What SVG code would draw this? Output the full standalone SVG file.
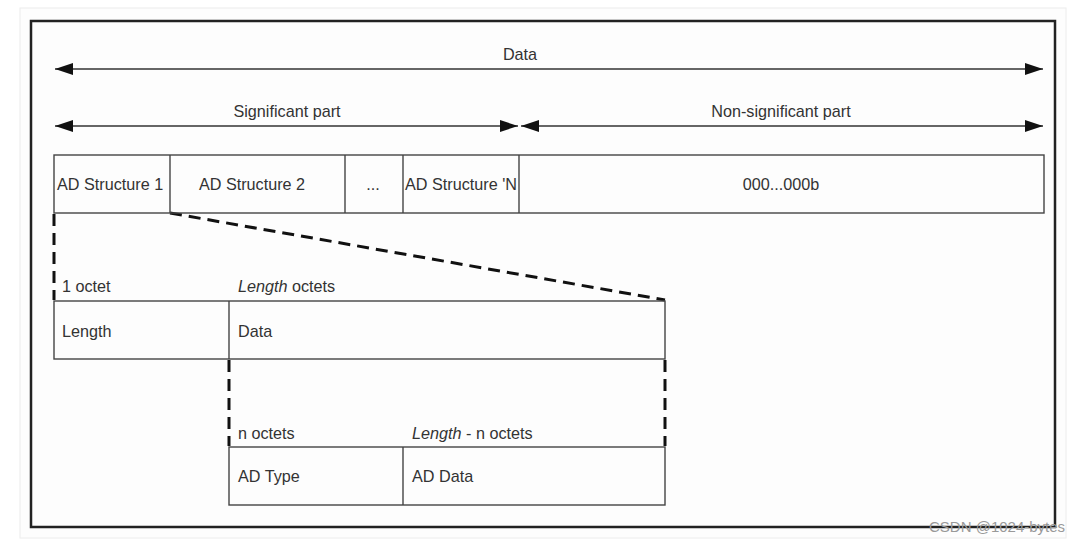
<svg xmlns="http://www.w3.org/2000/svg" width="1086" height="544" viewBox="0 0 1086 544">
<style>
text{font-family:"Liberation Sans",Arial,sans-serif;font-size:16.2px;fill:#333}
.box{fill:none;stroke:#444;stroke-width:1.4}
.dash{fill:none;stroke:#111;stroke-width:3;stroke-dasharray:12,7}
.arr{stroke:#333;stroke-width:1.5;fill:none}
.mid{text-anchor:middle}
</style>
<defs>
<marker id="ah" viewBox="0 0 18 12" refX="18" refY="6" markerWidth="18" markerHeight="12" markerUnits="userSpaceOnUse" orient="auto-start-reverse">
<path d="M0,0 L18,6 L0,12 z" fill="#111"/>
</marker>
</defs>
<rect x="0" y="0" width="1086" height="544" fill="#fff"/>
<rect x="20" y="8" width="1046" height="530" fill="#fdfdfd" stroke="#ececec" stroke-width="1"/>
<rect x="31" y="21" width="1024" height="506" fill="none" stroke="#222" stroke-width="2.5"/>
<g id="connectors">
<line class="arr" x1="55" y1="69" x2="1043" y2="69" marker-start="url(#ah)" marker-end="url(#ah)"/>
<line class="arr" x1="55" y1="126" x2="518" y2="126" marker-start="url(#ah)" marker-end="url(#ah)"/>
<line class="arr" x1="521" y1="126" x2="1043" y2="126" marker-start="url(#ah)" marker-end="url(#ah)"/>
<path class="dash" d="M54,214 V300"/>
<path class="dash" d="M170,213 L665,300"/>
<path class="dash" d="M229,360 V446"/>
<path class="dash" d="M665,360 V446"/>
</g>
<text class="mid" x="520" y="60">Data</text>
<text class="mid" x="287" y="117">Significant part</text>
<text class="mid" x="781" y="117">Non-significant part</text>
<g id="row1">
<rect class="box" x="54" y="155" width="990" height="58"/>
<line class="box" x1="170" y1="155" x2="170" y2="213"/>
<line class="box" x1="345" y1="155" x2="345" y2="213"/>
<line class="box" x1="403" y1="155" x2="403" y2="213"/>
<line class="box" x1="519" y1="155" x2="519" y2="213"/>
<text x="57" y="190">AD Structure 1</text>
<text class="mid" x="252" y="190">AD Structure 2</text>
<text class="mid" x="373" y="190">...</text>
<text x="405" y="190">AD Structure 'N</text>
<text class="mid" x="781" y="190">000...000b</text>
</g>
<g id="row2">
<rect class="box" x="54" y="301" width="611" height="58"/>
<line class="box" x1="229" y1="301" x2="229" y2="359"/>
<text x="62" y="292">1 octet</text>
<text x="238" y="292"><tspan font-style="italic">Length</tspan> octets</text>
<text x="62" y="337">Length</text>
<text x="238" y="337">Data</text>
</g>
<g id="row3">
<rect class="box" x="229" y="447" width="436" height="58"/>
<line class="box" x1="403" y1="447" x2="403" y2="505"/>
<text x="238" y="439">n octets</text>
<text x="412" y="439"><tspan font-style="italic">Length</tspan> - n octets</text>
<text x="238" y="482">AD Type</text>
<text x="412" y="482">AD Data</text>
</g>
<text x="929" y="532" style="font-size:15px;fill:#999">CSDN @1024-bytes</text>
</svg>
